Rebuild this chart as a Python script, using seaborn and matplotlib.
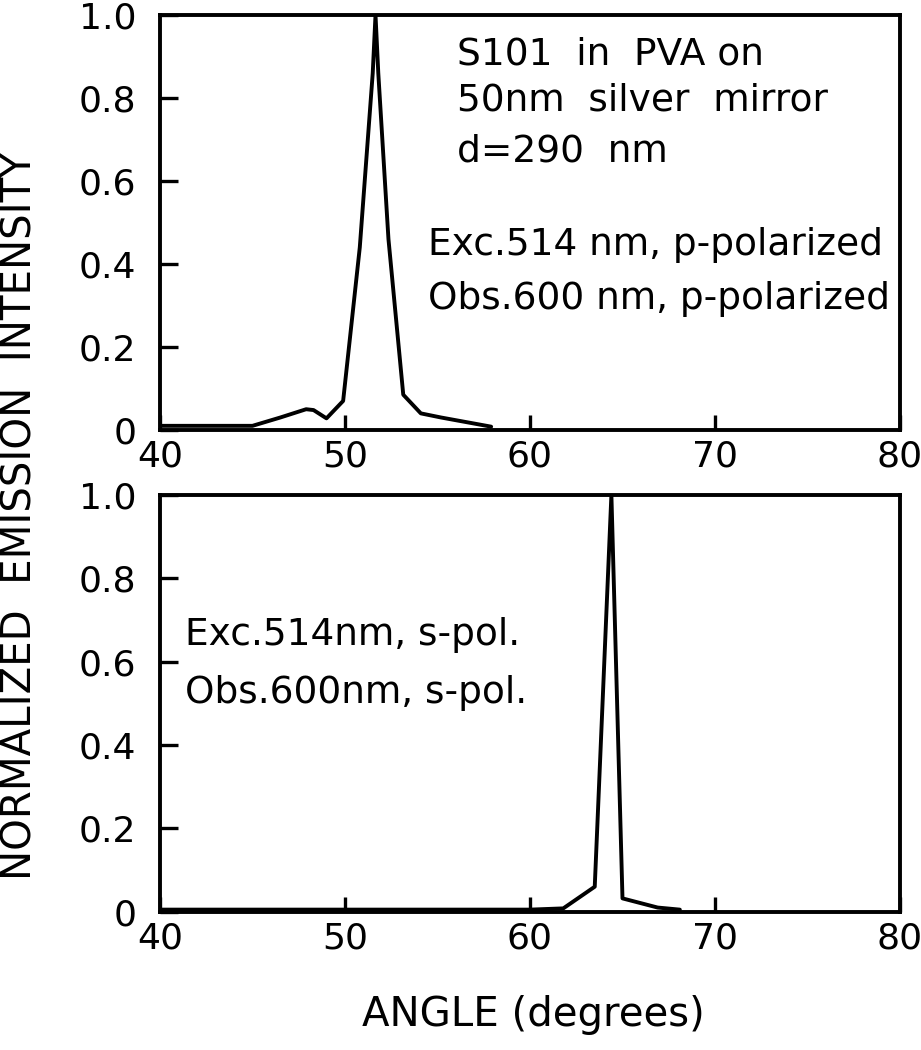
import numpy as np
import pandas as pd
import seaborn as sns
import matplotlib.pyplot as plt

# p-polarized (top panel)
angle_p = [40, 45, 46.5, 47.9, 48.3, 49.0, 49.9, 50.8, 51.5, 51.65, 51.8, 52.35, 53.15, 54.1, 55.2, 57.9]
inten_p = [0.01, 0.01, 0.03, 0.05, 0.048, 0.028, 0.07, 0.44, 0.86, 1.0, 0.86, 0.46, 0.085, 0.04, 0.03, 0.008]

# s-polarized (bottom panel)
angle_s = [40, 50, 60, 61.8, 63.5, 64.4, 65.0, 66.9, 68.1]
inten_s = [0.005, 0.005, 0.005, 0.008, 0.06, 1.0, 0.032, 0.01, 0.005]

xticks = [40, 50, 60, 70, 80]
yticks = [0, 0.2, 0.4, 0.6, 0.8, 1.0]
ytick_labels = ["0", "0.2", "0.4", "0.6", "0.8", "1.0"]

df_p = pd.DataFrame({"angle": angle_p, "intensity": inten_p})
df_s = pd.DataFrame({"angle": angle_s, "intensity": inten_s})

sns.set_style("ticks")
plt.rcParams['font.family'] = ['DejaVu Sans']
plt.rcParams['text.color'] = 'black'

fig = plt.figure(figsize=(9.21, 10.5), dpi=100)
ax1 = fig.add_axes([0.1737, 0.5905, 0.8035, 0.3952])
ax2 = fig.add_axes([0.1737, 0.1317, 0.8035, 0.3969])

for ax, df in [(ax1, df_p), (ax2, df_s)]:
    sns.lineplot(data=df, x="angle", y="intensity", ax=ax, color="black", linewidth=2.8)
    ax.set_xlim(40, 80)
    ax.set_ylim(0, 1.0)
    ax.set_xticks(xticks)
    ax.set_xticklabels([str(t) for t in xticks])
    ax.set_yticks(yticks)
    ax.set_yticklabels(ytick_labels)
    ax.tick_params(axis="both", direction="in", labelsize=26, width=2.4, color="black",
                   labelcolor="black")
    ax.tick_params(axis="y", length=13, pad=17)
    ax.tick_params(axis="x", length=11, pad=7)
    for s in ax.spines.values():
        s.set_linewidth(2.8)
        s.set_color("black")
    ax.set_xlabel("")
    ax.set_ylabel("")

fs = 27
ax1.text(0.402, 0.905, "S101  in  PVA on", transform=ax1.transAxes, fontsize=fs, va="center", ha="left")
ax1.text(0.402, 0.795, "50nm  silver  mirror", transform=ax1.transAxes, fontsize=fs, va="center", ha="left")
ax1.text(0.402, 0.67, "d=290  nm", transform=ax1.transAxes, fontsize=fs, va="center", ha="left")
ax1.text(0.362, 0.445, "Exc.514 nm, p-polarized", transform=ax1.transAxes, fontsize=fs, va="center", ha="left")
ax1.text(0.362, 0.315, "Obs.600 nm, p-polarized", transform=ax1.transAxes, fontsize=fs, va="center", ha="left")

ax2.text(0.034, 0.665, "Exc.514nm, s-pol.", transform=ax2.transAxes, fontsize=fs, va="center", ha="left")
ax2.text(0.034, 0.525, "Obs.600nm, s-pol.", transform=ax2.transAxes, fontsize=fs, va="center", ha="left")

fig.text(0.579, 0.033, "ANGLE (degrees)", fontsize=29, ha="center", va="center")
fig.text(0.022, 0.508, "NORMALIZED  EMISSION  INTENSITY", fontsize=29, rotation=90,
         ha="center", va="center")

fig.savefig("out.png", dpi=100)
